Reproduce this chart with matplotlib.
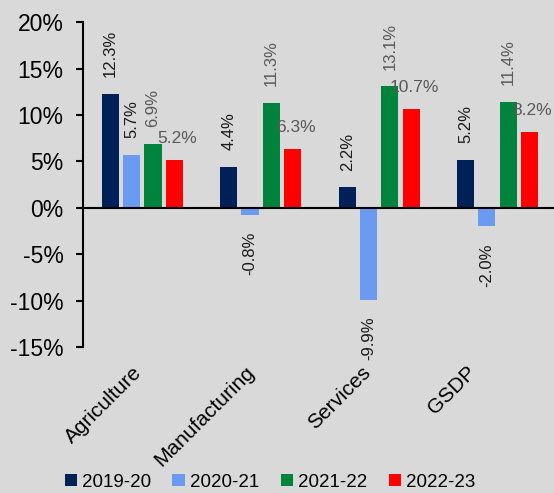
import matplotlib
matplotlib.use("Agg")
import matplotlib.pyplot as plt
import matplotlib.transforms as mtransforms
from matplotlib.patches import Patch
import numpy as np

plt.rcParams["font.family"] = ["Liberation Sans", "DejaVu Sans"]

categories = ["Agriculture", "Manufacturing", "Services", "GSDP"]
years = ["2019-20", "2020-21", "2021-22", "2022-23"]
growth_1920 = [12.3, 4.4, 2.2, 5.2]
growth_2021 = [5.7, -0.8, -9.9, -2.0]
growth_2122 = [6.9, 11.3, 13.1, 11.4]
growth_2223 = [5.2, 6.3, 10.7, 8.2]
yticks = [-15, -10, -5, 0, 5, 10, 15, 20]

series = [growth_1920, growth_2021, growth_2122, growth_2223]
colors = ["#002157", "#6a9bf1", "#00843d", "#ff0000"]
label_colors = ["#1a1a1a", "#1a1a1a", "#595959", "#595959"]
rotated = [True, True, True, False]

bg = "#d9d9d9"
fig = plt.figure(figsize=(5.54, 4.93), dpi=100)
fig.patch.set_facecolor(bg)
ax = fig.add_axes([0.150, 0.296, 0.855, 0.659])
ax.set_facecolor(bg)

x = np.arange(len(categories))
step, width = 0.18, 0.145
for i, (vals, c) in enumerate(zip(series, colors)):
    pos = x + (i - 1.5) * step
    ax.bar(pos, vals, width, color=c, zorder=2)
    for px, v in zip(pos, vals):
        if rotated[i]:
            off = 12 if v >= 0 else -12
            ax.annotate(f"{v:.1f}%", (px, v), xytext=(0, off), textcoords="offset points",
                        rotation=90, ha="center", va="bottom" if v >= 0 else "top",
                        fontsize=12, color=label_colors[i])
        else:
            ax.annotate(f"{v:.1f}%", (px, v), xytext=(2, 10), textcoords="offset points",
                        ha="center", va="bottom", fontsize=12.5, color=label_colors[i],
                        annotation_clip=False)

ax.axhline(0, color="black", linewidth=1.5, zorder=3)
ax.set_xlim(-0.5, 3.5)
ax.set_ylim(-15, 20)
ax.set_yticks(yticks)
ax.set_yticklabels([f"{t}%" for t in yticks], fontsize=16.5)
ax.tick_params(axis="y", direction="out", length=5, width=1.5, pad=9)

ax.set_xticks(x)
ax.set_xticklabels(categories, rotation=45, ha="right", va="center",
                   rotation_mode="anchor", fontsize=15)
ax.tick_params(axis="x", length=0, pad=16)
# Excel nudges the shorter rotated labels further left
for lab, dx in zip(ax.get_xticklabels(), [-3, -9, -11, -25]):
    lab.set_transform(lab.get_transform()
                      + mtransforms.ScaledTranslation(dx / 100, 0, fig.dpi_scale_trans))

for s in ["top", "right", "bottom"]:
    ax.spines[s].set_visible(False)
ax.spines["left"].set_linewidth(1.5)

handles = [Patch(facecolor=c, edgecolor="none") for c in colors]
fig.legend(handles, years, loc="center", bbox_to_anchor=(0.487, 0.022), ncol=4,
           frameon=False, fontsize=13.5, handlelength=0.65, handleheight=0.65,
           handletextpad=0.27, columnspacing=1.15, borderaxespad=0)

fig.savefig("out.png", dpi=100, facecolor=bg)
